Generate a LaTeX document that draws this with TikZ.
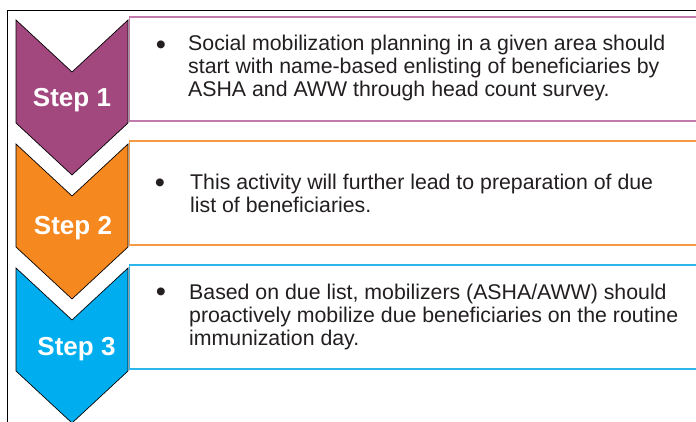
\documentclass[tikz,border=0pt]{standalone}
\usepackage{fontspec}
\setmainfont{Liberation Sans}
\usetikzlibrary{positioning}
\definecolor{stepA}{HTML}{A3487F}
\definecolor{stepB}{HTML}{F5881F}
\definecolor{stepC}{HTML}{00AEEF}
\definecolor{lineA}{HTML}{C27AAD}
\definecolor{lineB}{HTML}{F59A45}
\definecolor{lineC}{HTML}{2DB6EA}
\definecolor{txt}{HTML}{231F20}

\begin{document}
\begin{tikzpicture}[x=1pt,y=-1pt,
	chev/.style={draw=black, line width=0.7pt, line join=miter},
	stepname/.style={text=white, font=\fontsize{26}{30}\selectfont\bfseries, inner sep=0pt, anchor=base},
	bodytext/.style={text=txt, font=\fontsize{21.3}{23}\selectfont, align=left, anchor=base west, inner sep=0pt},
	dot/.style={text=txt, font=\fontsize{29}{30}\selectfont, inner sep=0pt}]
			\clip (0,0) rectangle (696,422);
			% 外框
			\draw[line width=1pt] (700,11) -- (7,11) -- (7,430);
			% 方框
			\foreach \t/\c in {17/lineA,141/lineB,265/lineC} {
				\draw[draw=\c, line width=1.5pt, fill=white] (129.5,\t) rectangle (700,\t+104);
			}
			% 箭头
			\foreach \t/\c in {20/stepA,144/stepB,268/stepC} {
				\draw[chev, fill=\c] (16,\t) -- (72,\t+52) -- (128,\t) -- (128,\t+103) -- (72,\t+155) -- (16,\t+103) -- cycle;
			}
			% 标记步骤
			\node[stepname] (s1) at (72,107) {Step 1};
			\node[stepname] (s2) at (73,235) {Step 2};
			\node[stepname] (s3) at (76.5,355) {Step 3};
			% 文字 (基线 = 最后一行)
			\node[dot] (d1) at (161,48) {\textbullet};
			\node[bodytext] (t1) at (188,97) {Social mobilization planning in a given area should\\start with name-based enlisting of beneficiaries by\\ASHA and AWW through head count survey.};
			\node[dot] (d2) at (160,186) {\textbullet};
			\node[bodytext] (t2) at (190,213) {This activity will further lead to preparation of due\\list of beneficiaries.};
			\node[dot] (d3) at (161,295) {\textbullet};
			\node[bodytext] (t3) at (189,345) {Based on due list, mobilizers (ASHA/AWW) should\\proactively mobilize due beneficiaries on the routine\\immunization day.};
		\end{tikzpicture}
\end{document}
